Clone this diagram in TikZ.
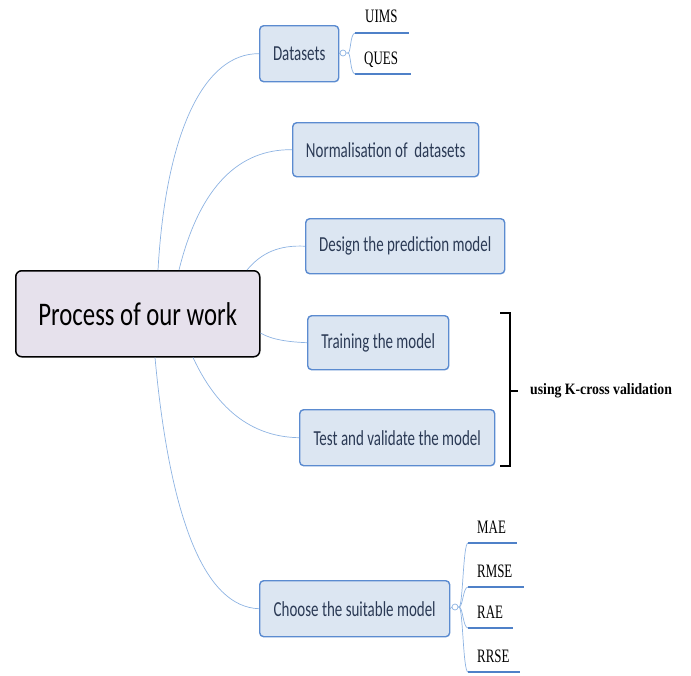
\documentclass[tikz,border=0pt]{standalone}
\usepackage{fontspec}
\setmainfont{Liberation Serif}
\newfontfamily\boxfont[FakeStretch=0.7]{Carlito}
\newfontfamily\rootfont[FakeStretch=0.75]{Carlito}
\newfontfamily\subfont[FakeStretch=0.68]{Liberation Serif}
\newfontfamily\kfont[FakeStretch=0.87]{Liberation Serif}
\usetikzlibrary{calc}
\definecolor{boxfill}{HTML}{DCE6F2}
\definecolor{boxdraw}{HTML}{5B8BD0}
\definecolor{boxtext}{HTML}{2B3A55}
\definecolor{conn}{HTML}{8DB3E2}
\definecolor{rootfill}{HTML}{E6E1EC}
\definecolor{thickline}{HTML}{4F81C8}
\tikzset{
  topicbox/.style={draw=boxdraw, fill=boxfill, line width=1.4pt, rounded corners=4pt,
    text=boxtext, font=\boxfont\fontsize{21.4}{24}\selectfont, inner sep=0pt, anchor=north west},
  rootbox/.style={draw=black, fill=rootfill, line width=1.5pt, rounded corners=6pt,
    font=\rootfont\fontsize{33}{36}\selectfont, inner sep=0pt, anchor=north west},
  link/.style={draw=conn, line width=0.7pt},
  subtext/.style={font=\subfont\fontsize{19}{21}\selectfont, anchor=base west, inner sep=0pt},
  subline/.style={draw=thickline, line width=2.8pt},
  knob/.style={circle, draw=conn, line width=0.7pt, minimum size=6pt, inner sep=0pt, fill=white},
}
\begin{document}
\begin{tikzpicture}[x=1pt,y=-1pt]
\useasboundingbox (0,0) rectangle (691,675);
% root
\node[rootbox, minimum width=244pt, minimum height=86pt] (c) at (15,270) {Process of our work};
% topics
\node[topicbox, minimum width=79pt, minimum height=56pt] (d) at (259,25) {Datasets};
\node[topicbox, minimum width=186pt, minimum height=54pt] (n) at (292,122) {Normalisation of\ \ datasets};
\node[topicbox, minimum width=199pt, minimum height=55pt] (p) at (305,218) {Design the prediction model};
\node[topicbox, minimum width=141pt, minimum height=54pt] (t) at (307,315) {Training the model};
\node[topicbox, minimum width=195pt, minimum height=56pt] (v) at (299,409) {Test and validate the model};
\node[topicbox, minimum width=190pt, minimum height=56pt] (s) at (259,580) {Choose the suitable model};
% connectors from root
\draw[link] ([xshift=143pt]c.north west) .. controls (166,130) and (205,53) .. (d.west);
\draw[link] ([xshift=164pt]c.north west) .. controls (200,185) and (240,149) .. (n.west);
\draw[link] ([xshift=232pt]c.north west) .. controls (262,252) and (280,245) .. (p.west);
\draw[link] ([yshift=-63pt]c.north east) .. controls (272,340) and (290,342) .. (t.west);
\draw[link] ([xshift=178pt]c.south west) .. controls (222,420) and (262,437) .. (v.west);
\draw[link] ([xshift=140pt]c.south west) .. controls (170,520) and (205,607) .. (s.west);
% datasets children
\node[knob] (dk) at (343,53) {};
\draw[link] (d.east) -- (dk.west);
\coordinate (d1) at (355,33);
\coordinate (d2) at (355,74);
\draw[link] (dk.east) -- (348,53) .. controls (351,53) and (350,34) .. (d1);
\draw[link] (dk.east) -- (348,53) .. controls (351,53) and (350,73) .. (d2);
\coordinate (d1e) at (409,33);
\coordinate (d2e) at (411,74);
\draw[subline] (d1) -- (d1e);
\draw[subline] (d2) -- (d2e);
\node[subtext] (uims) at (365,22) {UIMS};
\node[subtext] (ques) at (364,64) {QUES};
% choose children
\node[knob] (sk) at (455,607) {};
\draw[link] (s.east) -- (sk.west);
\foreach \y/\e/\nm in {543/517/m1, 587/524/m2, 628/513/m3, 672/520/m4} {
  \coordinate (\nm) at (468,\y);
  \coordinate (\nm e) at (\e,\y);
  \draw[link] (sk.east) -- (459,607) .. controls (463,607) and (463,\y) .. (\nm);
  \draw[subline] (\nm) -- (\nm e);
}
\node[subtext] (mae) at (477,533) {MAE};
\node[subtext] (rmse) at (477,577) {RMSE};
\node[subtext] (rae) at (477,618) {RAE};
\node[subtext] (rrse) at (477,662) {RRSE};
% brace
\coordinate (bt) at (500,313);
\coordinate (bb) at (500,466);
\coordinate (bm) at (510,391);
\draw[line width=2pt] (bt) -- (510,313) -- (510,466) -- (bb);
\draw[line width=2pt] (bm) -- (518,391);
\node[font=\kfont\bfseries\fontsize{15.8}{18}\selectfont, anchor=west, inner sep=0pt] (kc) at (530,391) {using K-cross validation};
\end{tikzpicture}
\end{document}
